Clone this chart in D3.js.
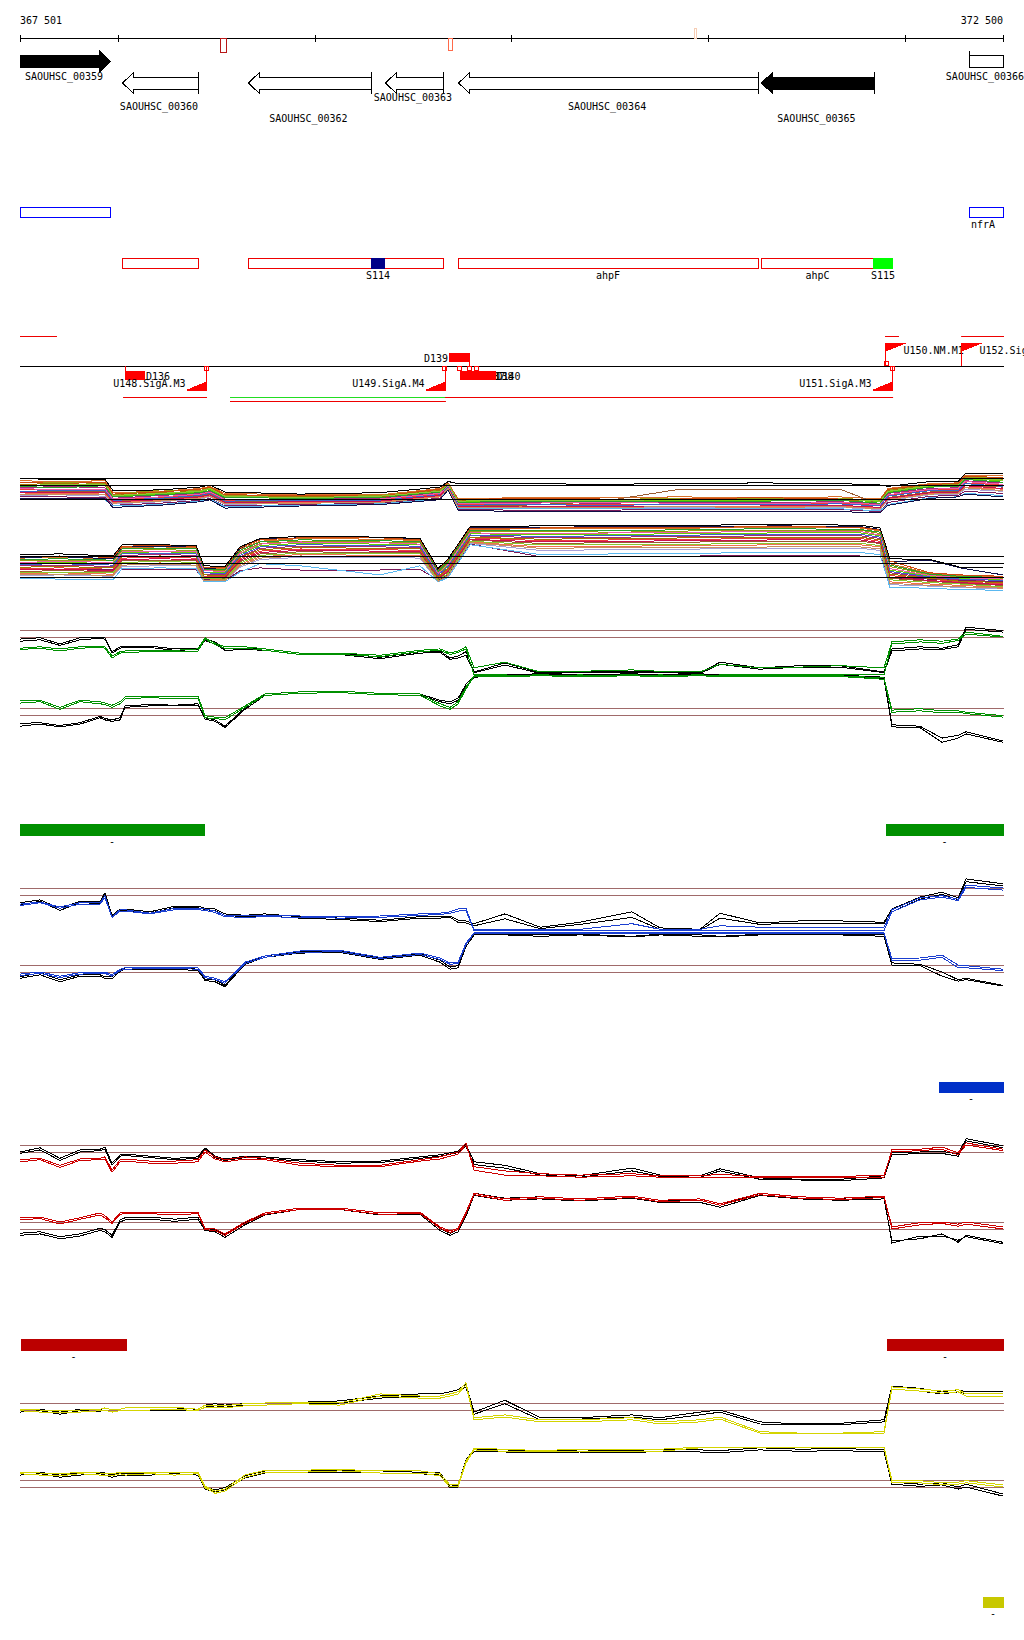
<!DOCTYPE html>
<html><head><meta charset="utf-8">
<script src="https://cdn.jsdelivr.net/npm/d3@7"></script>
<style>
body{margin:0;background:#fff}
svg{display:block}
text{font-family:"DejaVu Sans Mono",monospace;font-size:10px;fill:#000}
</style></head>
<body><svg id="c" width="1024" height="1640"></svg>
<script>
// ---------------- DATA ----------------
const axisStart = 367501, axisEnd = 372500;
const axisTicks = [368000, 369000, 370000, 371000, 372000];
const axisLabels = ["367 501", "372 500"];

const markStart = [368518, 369678, 370929];
const markEnd   = [368549, 369698, 370939];

const geneNames  = ["SAOUHSC_00359","SAOUHSC_00360","SAOUHSC_00362","SAOUHSC_00363","SAOUHSC_00364","SAOUHSC_00365","SAOUHSC_00366"];
const geneStart  = [367400, 368020, 368660, 369357, 369729, 371269, 372327];
const geneEnd    = [367959, 368406, 369286, 369652, 371254, 371844, 372700];
const geneStrand = ["+","-","-","-","-","-","+"];
const geneFilled = [true,false,false,false,false,true,false];

const blueBoxName  = ["", "nfrA"];
const blueBoxStart = [367400, 372327];
const blueBoxEnd   = [367959, 372700];

const redBoxName  = ["", "", "ahpF", "ahpC"];
const redBoxStart = [368020, 368660, 369729, 371269];
const redBoxEnd   = [368406, 369652, 371254, 371844];
const fillBoxName  = ["S114", "S115"];
const fillBoxStart = [369286, 371839];
const fillBoxEnd   = [369357, 371941];

const promName   = ["U148.SigA.M3","U149.SigA.M4","U151.SigA.M3","U150.NM.M1","U152.SigA.M3"];
const promPos    = [368447, 369662, 371936, 371900, 372287];
const promStrand = ["-","-","-","+","+"];

const termName   = ["D136","D139","D137","D138","D140"];
const termStart  = [368035, 369683, 369739, 369782, 369818];
const termEnd    = [368137, 369790, 369840, 369883, 369919];
const termStrand = ["-","+","-","-","-"];

const tssPos    = [368447, 369657, 371936, 371907, 369734, 369782, 369818];
const tssStrand = ["-","-","-","+","-","-","-"];

const tuStart = [367400, 371900, 372287, 368025, 368569, 369662, 368569];
const tuEnd   = [367684, 371966, 372700, 368447, 369662, 371936, 369662];
const tuKind  = ["red","red","red","red","green","red","red"];
const tuSide  = ["+","+","+","-","-","-","-2"];

// multi-condition panel
const multiUpPos = [367501,367704,367933,367974,368213,368416,368467,368543,368925,369332,369637,369678,369729,370044,370451,370857,371264,371671,371875,371915,372129,372272,372307,372500];
const multiUp = [
 [9.6,9.5,9.6,7.9,8.1,8.5,8.8,7.8,7.6,7.6,8.5,9.3,7.0,7.2,7.2,7.3,7.2,7.3,7.0,8.5,9.2,9.3,10.4,10.3],
 [9.3,9.4,9.2,7.6,8.3,8.2,8.6,7.5,7.4,7.5,8.3,9.1,6.8,7.0,6.9,7.1,7.0,7.1,6.8,8.3,9.0,9.1,10.1,10.0],
 [9.0,9.0,8.9,7.4,7.7,8.0,8.4,7.3,7.3,7.3,8.1,9.0,6.6,6.8,6.7,6.8,6.8,6.9,6.6,8.0,8.8,8.9,9.9,9.6],
 [8.6,8.8,8.6,7.1,7.5,7.8,8.1,7.0,7.0,7.1,7.9,8.9,6.4,6.5,6.4,6.5,6.5,6.6,6.3,7.8,8.5,8.6,9.6,9.3],
 [8.3,8.4,8.3,6.9,7.2,7.6,7.9,6.8,6.9,6.9,7.7,8.8,6.2,6.3,6.2,6.3,6.3,6.4,6.1,7.5,8.3,8.4,9.3,9.0],
 [8.0,8.1,8.0,6.7,7.0,7.4,7.7,6.6,6.7,6.8,7.5,8.7,6.0,6.1,6.6,8.4,8.3,8.4,6.2,7.2,8.0,8.1,9.0,8.7],
 [7.7,7.8,7.7,6.5,6.8,7.2,7.5,6.4,6.5,6.6,7.4,8.6,5.8,5.9,5.8,5.9,5.9,6.0,5.7,7.0,7.8,7.9,8.7,8.4],
 [7.5,7.6,7.4,6.3,6.6,7.0,7.3,6.2,6.4,6.5,7.3,8.5,5.7,5.7,5.7,5.8,5.7,5.8,5.5,6.8,7.6,7.7,8.4,8.1],
 [7.3,7.3,7.2,6.1,6.4,6.8,7.1,6.0,6.2,6.4,7.1,8.4,5.5,5.4,5.4,5.5,5.5,5.5,5.2,6.5,7.4,7.5,8.1,7.8],
 [6.9,6.9,6.9,6.0,6.2,6.7,7.0,5.9,6.1,6.3,7.0,8.3,5.6,5.6,5.6,5.7,5.6,5.6,5.3,6.2,7.2,7.3,7.8,7.5],
 [7.0,7.1,7.0,5.8,6.1,6.6,6.9,5.7,6.0,6.2,6.9,8.3,5.4,5.2,5.2,5.2,5.2,5.2,5.0,6.1,7.1,7.3,7.7,7.3],
 [9.4,9.2,9.4,7.7,8.0,8.4,8.7,7.6,7.5,7.4,8.4,9.2,6.9,7.1,7.0,7.0,7.2,7.0,6.9,8.4,9.1,9.2,10.2,10.1],
 [8.8,8.6,8.9,7.3,7.6,7.9,8.2,7.2,7.1,7.2,8.0,9.0,6.5,6.7,6.6,6.6,6.7,6.8,6.4,7.9,8.7,8.8,9.8,9.4],
 [8.5,8.3,8.4,7.0,7.3,7.7,8.0,6.9,6.9,7.0,7.8,8.8,6.3,6.4,6.5,6.4,6.3,6.5,6.2,7.6,8.4,8.5,9.5,9.1],
 [8.1,8.2,8.2,6.8,7.1,7.5,7.8,6.7,6.8,6.8,7.6,8.7,6.1,6.2,6.1,6.2,6.2,6.3,6.0,7.4,8.2,8.2,9.2,8.8],
 [9.1,9.2,9.0,7.5,7.9,8.1,8.5,7.4,7.3,7.3,8.2,9.1,6.7,6.9,6.8,6.9,6.9,6.9,6.7,8.2,8.9,9.0,10.0,9.8],
 [7.9,7.9,7.9,6.6,6.9,7.3,7.6,6.5,6.6,6.7,7.5,8.6,5.9,6.0,5.9,6.0,6.0,6.1,5.8,7.1,7.9,8.0,8.9,8.5],
 [8.9,9.1,9.1,7.5,7.8,8.1,8.5,7.4,7.2,7.4,8.1,9.1,6.7,6.8,6.8,6.9,6.9,7.0,6.7,8.1,8.9,9.0,10.0,9.7],
 [7.6,7.7,7.6,6.4,6.7,7.1,7.4,6.3,6.4,6.5,7.3,8.5,5.8,5.8,5.8,5.9,5.8,5.9,5.6,6.9,7.7,7.8,8.6,8.2],
 [9.9,9.8,9.8,8.2,8.3,8.7,9.0,8.0,7.7,7.9,8.7,9.5,9.2,9.2,9.1,9.2,9.3,9.2,9.0,8.8,9.5,9.5,10.6,10.6]
];
const multiLoPos = [367501,367704,367974,368020,368213,368396,368437,368543,368620,368722,368925,369332,369535,369627,369678,369790,370146,370552,370959,371366,371773,371875,371925,372129,372282,372500];
const multiLo = [
 [9.7,9.8,9.6,11.2,11.3,11.2,8.3,8.2,11.0,12.1,12.5,12.4,12.2,7.9,9.3,13.8,13.9,13.9,14.0,14.1,14.0,13.6,8.9,7.5,7.2,7.0],
 [9.3,9.4,9.3,10.8,10.9,10.8,8.0,7.9,10.6,11.8,12.1,12.0,11.9,7.6,9.0,13.5,13.5,13.4,13.6,13.7,13.7,13.2,8.5,7.3,7.0,6.8],
 [9.0,9.1,8.9,10.5,10.6,10.5,7.7,7.6,10.3,11.5,11.8,11.7,11.6,7.4,8.7,13.2,13.0,13.1,13.2,13.3,13.3,12.9,8.0,7.1,6.8,6.6],
 [8.6,8.7,8.5,10.1,10.2,10.1,7.4,7.3,9.9,11.1,11.4,11.3,11.2,7.1,8.3,12.9,12.6,12.7,12.8,12.9,12.9,12.5,7.6,6.9,6.6,6.3],
 [8.2,8.3,8.1,9.7,9.8,9.7,7.1,7.0,9.6,10.7,11.0,10.9,10.8,6.9,8.0,12.6,12.2,12.3,12.4,12.5,12.5,12.1,7.2,6.7,6.3,6.0],
 [7.8,7.9,7.8,9.3,9.4,9.3,6.9,6.8,9.2,10.3,10.6,10.5,10.5,6.7,7.7,12.3,11.8,11.9,12.0,12.1,12.1,11.8,6.8,6.4,6.1,5.8],
 [7.5,7.6,7.4,8.9,9.0,8.9,6.6,6.6,8.8,9.9,10.2,10.1,10.1,6.5,7.4,12.0,11.3,11.4,11.5,11.6,11.6,11.3,6.3,6.0,5.8,5.5],
 [7.2,7.3,7.1,8.5,8.6,8.6,6.4,6.4,8.4,9.5,9.8,9.8,9.7,6.3,7.1,11.8,10.8,10.9,11.0,11.1,11.1,10.8,5.9,5.7,5.5,5.3],
 [8.0,8.1,8.0,8.0,8.1,8.0,6.6,6.5,7.9,8.3,8.0,8.0,8.1,6.6,7.3,11.7,9.9,9.9,10.0,10.1,10.0,10.0,6.9,6.7,6.5,6.3],
 [6.8,6.7,6.6,8.2,8.3,8.2,6.3,6.3,7.7,8.9,8.6,7.3,8.6,6.3,6.9,11.6,10.2,10.3,10.4,10.5,10.5,10.2,5.5,5.4,5.2,5.1],
 [9.8,9.9,9.6,11.3,11.4,11.3,8.2,8.1,11.1,12.4,12.6,12.6,12.4,8.0,9.4,14.1,14.1,14.2,14.2,14.3,14.2,13.8,9.2,9.4,8.3,7.3],
 [9.9,10.0,9.8,11.4,11.5,11.4,8.4,8.3,11.2,12.3,12.6,12.6,12.3,8.1,9.5,14.0,14.0,14.1,14.1,14.2,14.1,13.7,9.3,7.6,7.3,7.1],
 [9.5,9.6,9.4,11.0,11.1,11.0,8.1,8.0,10.8,12.0,12.3,12.2,12.0,7.8,9.2,13.7,13.7,13.6,13.8,13.9,13.8,13.4,8.7,7.4,7.1,6.9],
 [9.1,9.2,9.1,10.6,10.7,10.7,7.9,7.8,10.4,11.7,12.0,11.9,11.7,7.5,8.8,13.3,13.2,13.3,13.4,13.5,13.5,13.0,8.2,7.2,6.9,6.7],
 [8.8,8.9,8.7,10.3,10.4,10.3,7.6,7.5,10.1,11.3,11.6,11.5,11.4,7.3,8.5,13.0,12.8,12.9,13.0,13.1,13.1,12.7,7.8,7.0,6.7,6.5],
 [8.4,8.5,8.3,9.9,10.0,9.9,7.3,7.2,9.8,10.9,11.2,11.1,11.0,7.0,8.2,12.7,12.4,12.5,12.6,12.7,12.7,12.3,7.4,6.8,6.4,6.2],
 [8.0,8.1,7.9,9.5,9.6,9.5,7.0,6.9,9.4,10.5,10.8,10.7,10.6,6.8,7.8,12.4,12.0,12.1,12.2,12.3,12.3,11.9,7.0,6.5,6.2,5.9],
 [7.6,7.7,7.6,9.1,9.2,9.1,6.8,6.7,9.0,10.1,10.4,10.3,10.3,6.6,7.5,12.1,11.6,11.7,11.7,11.8,11.8,11.5,6.6,6.2,6.0,5.6],
 [7.3,7.4,7.2,8.7,8.8,8.7,6.5,6.5,8.6,9.7,10.0,9.9,9.9,6.4,7.2,11.9,11.1,11.2,11.2,11.3,11.3,11.0,6.1,5.8,5.6,5.4],
 [10.2,10.3,10.0,11.6,11.6,11.5,8.6,8.5,11.3,12.5,12.8,12.7,12.5,8.2,9.6,14.2,14.3,14.3,14.4,14.5,14.4,14.0,9.6,9.5,8.4,8.4]
];

// shared sample positions for the four two-colour panels
const pos = [367501,367603,367704,367806,367908,367933,367969,368010,368035,368162,368289,368406,368442,368493,368543,368645,368747,368925,369128,369332,369535,369637,369688,369729,369769,369810,369967,370146,370349,370613,370756,370959,371061,371264,371468,371671,371895,371935,372078,372190,372272,372312,372500];

const greenUpBlackA = [8.7,8.9,8.0,8.9,9.0,8.9,6.9,7.6,7.7,7.7,7.3,7.4,8.7,8.3,7.3,7.4,7.3,6.7,6.7,6.1,6.9,7.0,6.0,6.3,6.9,4.0,5.3,3.9,4.0,4.1,4.0,3.9,5.4,4.6,4.9,4.9,4.0,7.3,7.6,7.4,7.9,10.4,9.9];
const greenUpBlackB = [8.4,8.6,7.8,8.6,8.8,8.7,6.7,7.4,7.5,7.5,7.1,7.2,8.5,8.0,7.1,7.2,7.1,6.5,6.5,5.9,6.7,6.8,5.8,6.0,6.4,3.9,5.0,3.8,3.9,3.9,3.9,3.8,5.1,4.4,4.7,4.7,3.9,7.0,7.3,7.2,7.6,10.1,9.7];
const greenUpColA   = [7.4,7.6,7.3,7.6,7.7,7.6,6.3,6.9,7.0,7.1,7.1,7.3,8.9,8.1,7.6,7.6,7.3,6.7,6.7,6.4,7.1,7.3,6.7,7.0,7.6,4.6,5.4,4.0,4.1,4.3,4.1,4.0,5.1,4.6,4.7,4.9,4.6,8.3,8.6,8.4,8.7,9.7,9.1];
const greenUpColB   = [7.2,7.4,7.0,7.4,7.5,7.4,6.0,6.7,6.8,6.9,6.9,7.0,8.7,7.9,7.4,7.4,7.1,6.5,6.5,6.2,6.9,7.1,6.5,6.8,7.3,3.6,3.6,3.6,3.6,3.6,3.6,3.6,3.6,3.6,3.6,3.6,3.6,8.0,8.3,8.1,8.5,9.4,9.0];
const greenLoBlackA = [7.4,7.7,7.3,7.7,8.6,8.3,8.1,8.3,10.1,10.3,10.3,10.4,8.6,8.3,7.4,10.0,12.0,12.3,12.4,12.1,12.0,11.1,10.9,11.4,13.4,14.6,14.7,14.9,14.7,14.9,14.7,14.9,14.7,14.7,14.7,14.7,14.4,7.6,7.4,5.7,6.1,6.6,5.3];
const greenLoBlackB = [7.8,7.9,7.5,7.9,8.8,8.5,8.3,8.6,10.3,10.5,10.4,10.6,8.4,8.1,7.2,9.8,11.8,12.1,12.2,11.9,11.8,10.9,10.6,11.1,13.1,14.4,14.6,14.7,14.6,14.7,14.6,14.7,14.6,14.6,14.6,14.6,14.2,7.3,7.2,5.1,5.7,6.3,5.1];
const greenLoColA   = [11.0,11.1,10.1,11.1,10.9,10.7,10.4,10.9,11.6,11.7,11.6,11.7,8.9,8.7,8.6,10.3,12.0,12.3,12.4,12.1,12.0,10.6,10.1,10.9,13.0,14.6,14.6,14.7,14.6,14.7,14.6,14.7,14.6,14.6,14.6,14.6,14.3,9.7,9.9,9.6,9.6,9.4,8.9];
const greenLoColB   = [10.7,10.9,9.8,10.9,10.6,10.5,10.1,10.6,11.3,11.5,11.3,11.4,8.6,8.5,8.3,10.1,11.8,12.1,12.2,11.9,11.8,10.3,9.8,10.6,12.7,14.5,14.5,14.6,14.5,14.6,14.5,14.6,14.5,14.5,14.5,14.5,14.1,9.4,9.6,9.3,9.4,9.2,8.7];

const blueUpBlackA = [7.9,8.3,7.1,8.1,8.0,9.3,6.1,7.0,7.0,6.6,7.4,7.4,7.1,7.0,6.3,6.1,6.3,5.9,5.7,5.4,5.9,5.9,6.0,5.4,5.3,4.9,6.3,4.4,5.1,6.6,4.3,4.1,6.4,5.0,5.3,5.3,5.1,7.0,8.7,9.4,8.6,11.3,10.6];
const blueUpBlackB = [7.6,8.1,6.8,7.9,7.8,8.9,5.9,6.8,6.8,6.4,7.2,7.2,6.9,6.8,6.1,5.9,6.0,5.7,5.5,5.2,5.7,5.7,5.8,5.1,5.0,4.6,5.6,4.2,4.8,5.8,4.1,4.0,5.7,4.8,5.0,5.0,4.9,6.6,8.4,9.1,8.3,10.9,10.3];
const blueUpColA   = [7.7,8.0,7.3,7.9,7.9,8.9,5.9,6.9,6.9,6.4,7.1,7.1,7.0,6.7,6.1,6.0,6.1,6.0,5.9,6.0,6.3,6.4,6.6,7.0,7.1,4.0,4.1,4.0,4.1,4.9,4.1,4.1,4.6,4.4,4.4,4.4,4.4,6.9,8.6,8.9,8.4,10.4,10.0];
const blueUpColB   = [7.5,7.9,7.1,7.7,7.7,8.6,5.8,6.7,6.7,6.3,6.9,6.9,6.8,6.5,5.9,5.8,5.9,5.8,5.7,5.8,6.1,6.2,6.4,6.7,6.8,3.9,3.9,3.9,3.9,3.9,3.9,3.9,3.9,3.9,3.9,3.9,3.9,6.6,8.3,8.7,8.2,10.1,9.7];
const blueLoBlackA = [8.3,8.9,7.9,8.6,8.6,8.3,8.3,9.3,9.6,9.6,9.6,9.4,8.0,7.9,7.1,10.3,11.3,11.9,12.0,11.0,11.6,10.7,9.7,9.9,12.9,14.4,14.4,14.3,14.4,14.1,14.4,14.3,14.1,14.4,14.4,14.4,14.3,10.3,10.1,9.0,7.9,8.1,7.1];
const blueLoBlackB = [8.1,8.6,7.6,8.4,8.4,8.1,8.0,9.1,9.4,9.4,9.4,9.2,7.8,7.6,6.9,10.1,11.1,11.7,11.8,10.8,11.4,10.4,9.4,9.6,12.6,14.3,14.3,14.1,14.3,14.0,14.3,14.1,14.0,14.3,14.3,14.3,14.1,10.0,9.9,8.4,7.7,7.9,7.0];
const blueLoColA   = [8.7,9.0,8.4,8.9,9.0,9.0,8.6,9.4,9.6,9.7,9.7,9.6,8.4,8.1,7.6,10.4,11.3,12.0,12.1,11.1,11.7,11.0,10.3,10.4,13.1,14.6,14.6,14.6,14.6,14.6,14.6,14.6,14.6,14.6,14.6,14.6,14.6,10.9,11.0,11.4,10.0,9.9,9.4];
const blueLoColB   = [8.5,8.8,8.2,8.7,8.8,8.8,8.4,9.2,9.4,9.5,9.5,9.4,8.2,7.9,7.4,10.2,11.1,11.8,11.9,10.9,11.5,10.8,10.1,10.2,12.9,14.5,14.5,14.5,14.5,14.5,14.5,14.5,14.5,14.5,14.5,14.5,14.5,10.6,10.7,11.1,9.6,9.6,9.2];

const redUpBlackA = [9.0,9.6,8.1,9.3,9.4,9.7,7.4,8.6,8.7,8.4,8.1,8.3,9.6,8.4,8.0,8.4,8.3,7.9,7.6,7.7,8.3,8.6,8.9,9.1,10.1,7.6,7.1,5.9,5.6,6.7,5.7,5.6,6.6,5.3,5.1,5.1,5.6,8.9,9.0,9.1,8.7,10.9,9.9];
const redUpBlackB = [8.8,9.3,7.8,9.0,9.2,9.4,7.1,8.4,8.5,8.2,7.9,8.1,9.4,8.2,7.8,8.2,8.1,7.7,7.4,7.5,8.1,8.4,8.7,8.9,9.8,7.2,6.7,5.7,5.4,6.3,5.5,5.4,6.3,5.1,5.0,4.9,5.3,8.6,8.8,8.8,8.4,10.6,9.6];
const redUpColA   = [7.9,8.1,7.1,8.0,8.1,8.3,6.4,7.9,8.0,7.7,7.7,7.9,9.3,8.3,7.9,8.3,8.1,7.4,7.1,7.1,7.9,8.3,8.7,9.0,10.3,6.4,5.7,5.6,5.4,5.6,5.4,5.4,5.4,5.3,5.3,5.3,5.4,9.3,9.4,9.7,8.9,10.3,9.4];
const redUpColB   = [7.6,7.9,6.8,7.8,7.9,8.0,6.1,7.6,7.7,7.4,7.4,7.6,9.0,8.0,7.6,8.0,7.9,7.1,6.9,6.9,7.7,8.0,8.4,8.7,10.0,6.9,6.3,5.9,5.7,5.9,5.6,5.6,5.8,5.5,5.5,5.5,5.7,9.0,9.2,9.4,8.6,10.0,9.2];
const redLoBlackA = [8.4,8.6,7.9,8.3,9.1,8.9,8.1,10.3,10.6,10.7,10.4,10.7,9.1,8.9,8.1,9.9,11.3,12.0,12.0,11.3,11.4,9.1,8.4,8.9,11.1,14.1,13.4,13.6,13.3,13.7,13.1,13.1,12.4,14.1,13.6,13.4,13.6,7.0,8.0,8.0,7.4,7.9,6.9];
const redLoBlackB = [8.1,8.3,7.6,8.0,8.8,8.6,7.8,10.0,10.3,10.4,10.1,10.4,8.8,8.6,7.8,9.6,11.0,11.8,11.8,11.0,11.1,8.8,8.1,8.6,10.8,13.8,13.1,13.3,13.0,13.4,12.8,12.8,12.1,13.8,13.3,13.1,13.3,7.3,7.6,8.3,7.1,8.1,7.1];
const redLoColA   = [10.6,10.7,10.0,10.6,11.3,10.9,10.0,11.3,11.4,11.4,11.3,11.4,9.1,9.0,8.3,10.0,11.3,12.0,12.0,11.3,11.4,9.3,8.7,9.1,11.4,14.1,13.3,13.6,13.3,13.7,13.1,13.3,12.6,14.1,13.6,13.4,13.7,9.3,9.9,10.0,9.7,10.0,9.3];
const redLoColB   = [10.3,10.5,9.7,10.4,11.0,10.6,9.8,11.1,11.2,11.2,11.0,11.2,8.9,8.8,8.1,9.8,11.1,11.8,11.8,11.1,11.2,9.1,8.5,8.9,11.2,13.9,13.1,13.4,13.1,13.5,12.9,13.1,12.4,13.9,13.4,13.2,13.5,9.0,9.6,9.8,9.4,9.7,9.0];

const yelUpBlackA = [9.0,9.1,8.7,9.1,9.0,9.3,9.0,9.1,9.3,9.3,9.3,9.1,9.7,9.9,9.7,9.9,10.0,10.1,10.3,11.0,11.3,11.3,11.6,11.9,12.7,8.7,10.4,7.9,7.9,8.3,7.9,8.7,9.0,7.3,7.0,7.1,7.6,12.4,12.1,11.6,11.9,11.6,11.6];
const yelUpBlackB = [8.7,8.9,8.4,8.9,8.8,9.0,8.7,8.9,9.0,9.0,9.0,8.9,9.4,9.6,9.4,9.7,9.7,9.9,10.0,10.7,11.0,11.0,11.3,11.6,12.3,8.4,9.9,7.6,7.7,8.0,7.6,8.3,8.7,7.0,6.9,6.9,7.3,12.0,11.7,11.3,11.6,11.3,11.3];
const yelUpColA   = [9.1,9.0,8.9,9.0,9.1,9.3,9.0,9.1,9.3,9.3,9.4,9.1,9.7,9.7,9.6,9.9,10.0,10.1,10.0,11.3,11.0,11.0,11.3,11.6,12.9,7.9,8.3,7.6,7.6,7.9,7.3,7.6,8.0,5.9,5.7,5.7,5.9,12.3,12.0,11.7,11.9,11.3,11.3];
const yelUpColB   = [8.9,8.7,8.6,8.7,8.9,9.0,8.7,8.9,9.0,9.0,9.1,8.9,9.4,9.4,9.3,9.6,9.7,9.9,9.7,11.0,10.7,10.7,11.0,11.3,12.6,7.6,8.0,7.3,7.3,7.6,7.0,7.3,7.7,5.7,5.6,5.6,5.7,12.0,11.7,11.4,11.6,11.0,11.0];
const yelLoBlackA = [11.0,11.1,10.7,11.0,11.1,11.0,10.7,11.0,10.9,11.0,11.1,11.0,9.0,8.6,8.9,10.6,11.3,11.4,11.4,11.3,11.1,11.0,9.1,9.3,12.9,14.4,14.3,14.1,14.3,14.2,14.4,14.3,14.2,14.6,14.4,14.5,14.3,9.7,9.4,9.6,9.0,9.4,8.0];
const yelLoBlackB = [10.7,10.9,10.4,10.7,10.9,10.7,10.4,10.7,10.6,10.7,10.9,10.7,8.7,8.3,8.6,10.3,11.0,11.1,11.1,11.0,10.9,10.7,8.9,9.0,12.6,14.1,14.0,13.9,14.0,13.9,14.1,14.0,13.9,14.3,14.1,14.2,14.0,9.4,9.1,9.3,8.7,9.0,7.7];
const yelLoColA   = [11.1,11.0,10.9,11.1,11.0,10.9,10.9,11.1,11.0,11.1,11.0,11.1,9.1,8.4,8.7,10.7,11.4,11.4,11.5,11.3,11.3,10.9,9.3,9.4,12.7,14.5,14.4,14.2,14.4,14.3,14.4,14.7,14.7,14.7,14.7,14.7,14.7,10.0,9.9,9.6,9.7,9.9,9.3];
const yelLoColB   = [10.9,10.7,10.6,10.9,10.7,10.6,10.6,10.9,10.7,10.9,10.7,10.9,8.9,8.1,8.4,10.4,11.1,11.1,11.3,11.0,11.0,10.6,9.0,9.1,12.4,14.3,14.1,14.0,14.1,14.0,14.1,14.6,14.6,14.6,14.6,14.6,14.6,9.7,9.6,9.3,9.4,9.6,9.0];

const refLevels = [10, 9];
const multiRefLevels = [10, 9, 7];

const greenBarStart = [367501, 371905], greenBarEnd = [368437, 372500];
const blueBarStart  = [372175],          blueBarEnd  = [372500];
const redBarStart   = [367506, 371910], redBarEnd   = [368040, 372500];
const yelBarStart   = [372398],          yelBarEnd   = [372500];

// ---------------- DRAWING ----------------
const svg = d3.select("#c");
const X0 = 20, X1 = 1003;
const x = d3.scaleLinear().domain([axisStart, axisEnd]).range([X0, X1]);
const cx = v => Math.max(X0, Math.min(X1, x(v)));
const px = v => Math.round(v) + 0.5;
const R = "#ff0000";

// top axis
svg.append("line").attr("x1", X0).attr("x2", X1 + 1).attr("y1", 38.5).attr("y2", 38.5).attr("stroke", "#000");
[axisStart, ...axisTicks, axisEnd].forEach(t => {
  svg.append("line").attr("x1", px(x(t))).attr("x2", px(x(t))).attr("y1", 35).attr("y2", 42).attr("stroke", "#000");
});
svg.append("text").attr("x", X0).attr("y", 24).text(axisLabels[0]);
svg.append("text").attr("x", X1).attr("y", 24).attr("text-anchor", "end").text(axisLabels[1]);
const markColors = ["#b81818", "#ff6a4a", "#f6cdb4"];
const markY = [[38, 14], [38, 12], [28, 10]];
markStart.forEach((s, i) => {
  svg.append("rect").attr("x", px(x(s))).attr("y", markY[i][0] + 0.5)
    .attr("width", Math.max(2, Math.round(x(markEnd[i]) - x(s)))).attr("height", markY[i][1])
    .attr("fill", "none").attr("stroke", markColors[i]).attr("shape-rendering", "crispEdges");
});

// genes
const geneLabelY = [80, 110, 122, 101, 110, 122, 80];
geneNames.forEach((n, i) => {
  const a = cx(geneStart[i]), b = cx(geneEnd[i]);
  const plus = geneStrand[i] === "+";
  const yc = plus ? 61 : 82.5, bh = 6, hh = 10.5, hw = 11;
  let d;
  const headIn = plus ? geneEnd[i] <= axisEnd : geneStart[i] >= axisStart;
  if (plus) {
    if (headIn) d = `M${a},${yc-bh}L${b-hw},${yc-bh}L${b-hw},${yc-hh}L${b},${yc}L${b-hw},${yc+hh}L${b-hw},${yc+bh}L${a},${yc+bh}Z`;
    else d = `M${a},${yc-bh}L${b},${yc-bh}L${b},${yc+bh}L${a},${yc+bh}Z`;
  } else {
    d = `M${b},${yc-bh}L${a+hw},${yc-bh}L${a+hw},${yc-hh}L${a},${yc}L${a+hw},${yc+hh}L${a+hw},${yc+bh}L${b},${yc+bh}Z`;
  }
  svg.append("path").attr("d", d).attr("fill", geneFilled[i] ? "#000" : "#fff").attr("stroke", "#000")
    .attr("transform", "translate(0.5,0.5)").attr("shape-rendering", "crispEdges");
  if (plus && geneStart[i] > axisStart) svg.append("line").attr("x1", px(a)).attr("x2", px(a)).attr("y1", 51).attr("y2", 68).attr("stroke", "#000");
  if (!plus && geneEnd[i] < axisEnd) svg.append("line").attr("x1", px(b)).attr("x2", px(b)).attr("y1", 72).attr("y2", 94).attr("stroke", "#000");
  svg.append("text").attr("x", (a + b) / 2 - 1).attr("y", geneLabelY[i]).attr("text-anchor", "middle").text(n);
});

// blue boxes
blueBoxName.forEach((n, i) => {
  const a = cx(blueBoxStart[i]), b = cx(blueBoxEnd[i]);
  svg.append("rect").attr("x", px(a)).attr("y", 207.5).attr("width", Math.round(b - a)).attr("height", 10)
    .attr("fill", "none").attr("stroke", "#0000ff").attr("shape-rendering", "crispEdges");
  if (n) svg.append("text").attr("x", (a + b) / 2 - 3).attr("y", 228).attr("text-anchor", "middle").text(n);
});
// red boxes
redBoxName.forEach((n, i) => {
  const a = cx(redBoxStart[i]), b = cx(redBoxEnd[i]);
  svg.append("rect").attr("x", px(a)).attr("y", 258.5).attr("width", Math.round(b - a)).attr("height", 10)
    .attr("fill", "none").attr("stroke", "#ee0000").attr("shape-rendering", "crispEdges");
  if (n) svg.append("text").attr("x", (a + b) / 2).attr("y", 279).attr("text-anchor", "middle").text(n);
});
const fillColors = ["#000088", "#00ff00"];
fillBoxName.forEach((n, i) => {
  const a = cx(fillBoxStart[i]), b = cx(fillBoxEnd[i]);
  svg.append("rect").attr("x", Math.round(a)).attr("y", 258).attr("width", Math.round(b - a)).attr("height", 11)
    .attr("fill", fillColors[i]).attr("shape-rendering", "crispEdges");
  svg.append("text").attr("x", (a + b) / 2).attr("y", 279).attr("text-anchor", "middle").text(n);
});

// promoter / terminator track
const AY = 366;
svg.append("line").attr("x1", X0).attr("x2", X1 + 1).attr("y1", AY + 0.5).attr("y2", AY + 0.5).attr("stroke", "#000");
const tuY = {"+": 336.5, "-": 397.5, "-2": 401.5};
tuStart.forEach((s, i) => {
  svg.append("line").attr("x1", cx(s)).attr("x2", cx(tuEnd[i]) + 1).attr("y1", tuY[tuSide[i]]).attr("y2", tuY[tuSide[i]])
    .attr("stroke", tuKind[i] === "green" ? "#22dd22" : "#ee0000");
});
termName.forEach((n, i) => {
  const a = x(termStart[i]), b = x(termEnd[i]);
  if (termStrand[i] === "+") svg.append("text").attr("x", a - 1).attr("y", 362).attr("text-anchor", "end").text(n);
  else svg.append("text").attr("x", b + 1).attr("y", 380).text(n);
});
termName.forEach((n, i) => {
  const a = x(termStart[i]), b = x(termEnd[i]);
  if (termStrand[i] === "+") {
    svg.append("rect").attr("x", Math.round(a)).attr("y", 353).attr("width", Math.round(b - a)).attr("height", 9).attr("fill", R).attr("shape-rendering", "crispEdges");
    svg.append("line").attr("x1", px(b) - 1).attr("x2", px(b) - 1).attr("y1", 362).attr("y2", AY).attr("stroke", R);
  } else {
    svg.append("rect").attr("x", Math.round(a)).attr("y", 371).attr("width", Math.round(b - a)).attr("height", 9).attr("fill", R).attr("shape-rendering", "crispEdges");
    svg.append("line").attr("x1", px(a)).attr("x2", px(a)).attr("y1", AY).attr("y2", 371).attr("stroke", R);
  }
});
tssPos.forEach((p, i) => {
  const xx = Math.round(x(p)) - 2;
  const yy = tssStrand[i] === "+" ? 361.5 : 366.5;
  svg.append("rect").attr("x", xx + 0.5).attr("y", yy).attr("width", 4).attr("height", 4)
    .attr("fill", "#fff").attr("stroke", R).attr("shape-rendering", "crispEdges");
});
promName.forEach((n, i) => {
  const xp = px(x(promPos[i]));
  if (promStrand[i] === "-") {
    svg.append("line").attr("x1", xp).attr("x2", xp).attr("y1", AY).attr("y2", 390).attr("stroke", R);
    svg.append("path").attr("d", `M${xp},382L${xp},390L${xp - 19},390Z`).attr("fill", R).attr("stroke", R).attr("shape-rendering", "crispEdges");
    svg.append("text").attr("x", xp - 21).attr("y", 387).attr("text-anchor", "end").text(n);
  } else {
    svg.append("line").attr("x1", xp).attr("x2", xp).attr("y1", 343).attr("y2", AY).attr("stroke", R);
    svg.append("path").attr("d", `M${xp},343L${xp + 20},343L${xp},351Z`).attr("fill", R).attr("stroke", R).attr("shape-rendering", "crispEdges");
    svg.append("text").attr("x", xp + 18).attr("y", 354).text(n);
  }
});

// ---------- expression panels ----------
function strandScale(top) { return d3.scaleLinear().domain([10, 0]).range([top, top + 70]); }
function drawLine(positions, vals, ys, color, w) {
  const line = d3.line().x(d => x(d[0])).y(d => ys(d[1]));
  svg.append("path").datum(positions.map((p, i) => [p, vals[i]]))
    .attr("d", line).attr("fill", "none").attr("stroke", color).attr("stroke-width", w || 1)
    .attr("shape-rendering", "crispEdges");
}
function refLines(ys, levels, color) {
  levels.forEach(l => svg.append("line").attr("x1", X0).attr("x2", X1 + 1).attr("y1", px(ys(l))).attr("y2", px(ys(l))).attr("stroke", color));
}

const multiTops = [478, 556];
const multiColors = ["#d8702a", "#999910", "#66d000", "#a8287a", "#e83c3c", "#9a5a30", "#f27050", "#a8a0d8", "#7a1a5a", "#5ab8f0",
                     "#101048", "#cc4a10", "#2aa02a", "#ee5aa8", "#3a62c8", "#a07800", "#cc1050", "#88c830", "#c89060", "#000000"];
const muY = strandScale(multiTops[0]), mlY = strandScale(multiTops[1]);
multiUp.forEach((s, i) => drawLine(multiUpPos, s, muY, multiColors[i]));
multiLo.forEach((s, i) => drawLine(multiLoPos, s, mlY, multiColors[(i + 1) % multiColors.length === 0 ? 19 : i]));
refLines(muY, multiRefLevels, "#000");
refLines(mlY, multiRefLevels, "#000");

const panels = [
  {tops: [630, 708], col: "#009000", up: [greenUpBlackA, greenUpBlackB, greenUpColA, greenUpColB], lo: [greenLoBlackA, greenLoBlackB, greenLoColA, greenLoColB], bs: greenBarStart, be: greenBarEnd, barY: 824, barH: 12, barCol: "#009000"},
  {tops: [888, 965], col: "#1a3ed0", up: [blueUpBlackA, blueUpBlackB, blueUpColA, blueUpColB], lo: [blueLoBlackA, blueLoBlackB, blueLoColA, blueLoColB], bs: blueBarStart, be: blueBarEnd, barY: 1082, barH: 11, barCol: "#0030c8"},
  {tops: [1145, 1222], col: "#cc0000", up: [redUpBlackA, redUpBlackB, redUpColA, redUpColB], lo: [redLoBlackA, redLoBlackB, redLoColA, redLoColB], bs: redBarStart, be: redBarEnd, barY: 1339, barH: 12, barCol: "#bb0000"},
  {tops: [1403, 1480], col: "#d4d400", up: [yelUpBlackA, yelUpBlackB, yelUpColA, yelUpColB], lo: [yelLoBlackA, yelLoBlackB, yelLoColA, yelLoColB], bs: yelBarStart, be: yelBarEnd, barY: 1597, barH: 11, barCol: "#c8c800"}
];
panels.forEach(p => {
  const uy = strandScale(p.tops[0]), ly = strandScale(p.tops[1]);
  refLines(uy, refLevels, "#a06a6a");
  refLines(ly, refLevels, "#a06a6a");
  [[p.up, uy], [p.lo, ly]].forEach(([ser, ys]) => {
    drawLine(pos, ser[0], ys, "#000");
    drawLine(pos, ser[1], ys, "#000");
    drawLine(pos, ser[2], ys, p.col);
    drawLine(pos, ser[3], ys, p.col);
  });
  p.bs.forEach((s, i) => {
    const a = cx(s), b = cx(p.be[i]);
    svg.append("rect").attr("x", Math.round(a)).attr("y", p.barY).attr("width", Math.round(b - a) + 1).attr("height", p.barH).attr("fill", p.barCol);
    svg.append("text").attr("x", (a + b) / 2).attr("y", p.barY + p.barH + 9).attr("text-anchor", "middle").text("-");
  });
});
</script></body></html>
